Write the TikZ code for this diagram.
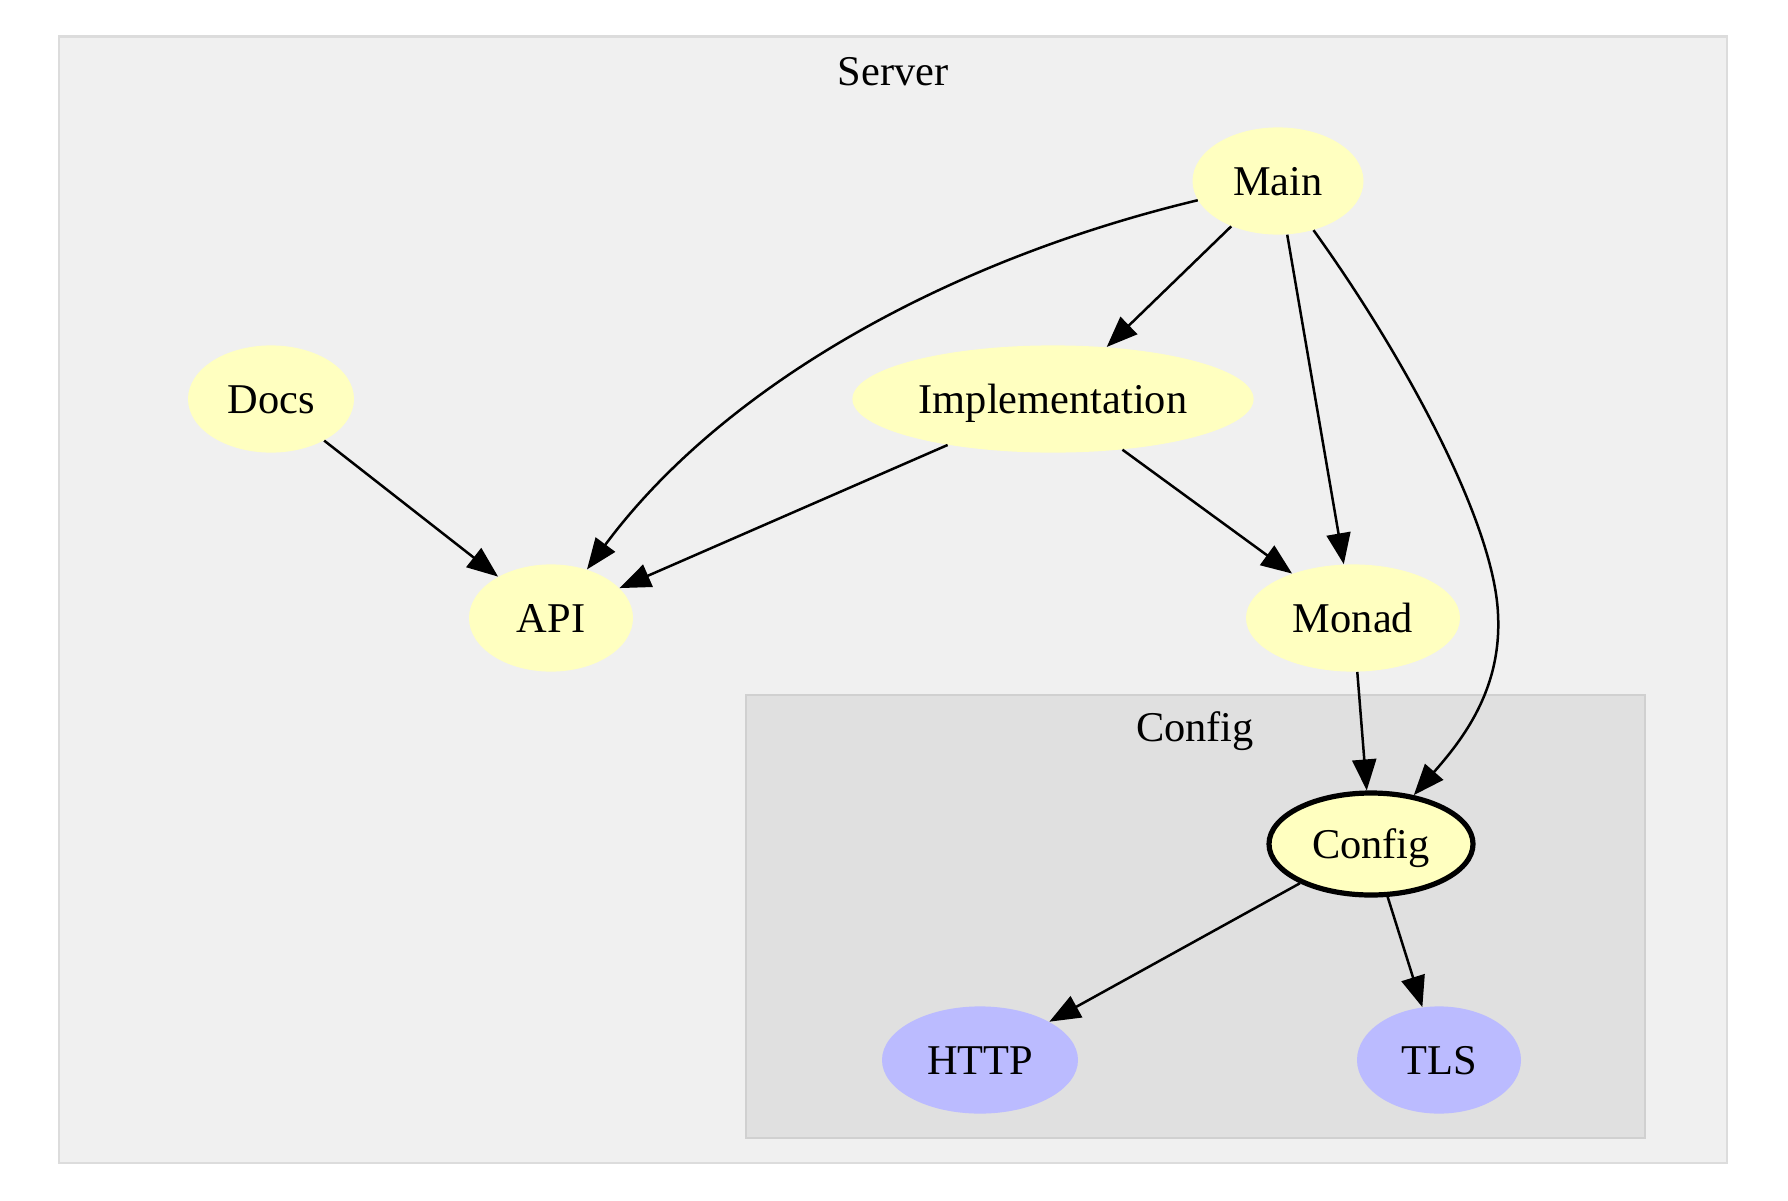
\documentclass[tikz,border=0pt]{standalone}
\usepackage{fontspec}
\setmainfont{Liberation Serif}
\usetikzlibrary{shapes.geometric,arrows.meta}
\definecolor{nodeyellow}{HTML}{FFFFC0}
\definecolor{nodeblue}{HTML}{BBBBFF}
\definecolor{serverfill}{HTML}{F0F0F0}
\definecolor{serverline}{HTML}{DCDCDC}
\definecolor{configfill}{HTML}{E0E0E0}
\definecolor{configline}{HTML}{D0D0D0}
\begin{document}
\begin{tikzpicture}[x=0.5pt,y=-0.5pt,
  lbl/.style={font=\fontsize{21.2}{25}\selectfont, text height=14pt, text depth=0pt, inner sep=0pt},
  gnode/.style={ellipse, lbl, minimum height=53.6pt},
  yel/.style={gnode, fill=nodeyellow},
  blu/.style={gnode, fill=nodeblue},
  edge/.style={-{Triangle[length=15.5pt,width=12pt]}, line width=1.25pt},
  cluster/.style={line width=1.2pt}
]
\useasboundingbox (0,0) rectangle (1788,1200);
\draw[cluster, fill=serverfill, draw=serverline] (59,36.5) rectangle (1727,1163);
\node[lbl] (serverlabel) at (893,71) {Server};
\draw[cluster, fill=configfill, draw=configline] (746,695) rectangle (1645,1138);
\node[lbl] (configlabel) at (1195,727) {Config};

\node[yel, minimum width=85.5pt] (Main) at (1278,181) {Main};
\node[yel, minimum width=83pt] (Docs) at (271,399) {Docs};
\node[yel, minimum width=200.6pt] (Impl) at (1053,399) {Implementation};
\node[yel, minimum width=82pt] (API) at (551,618) {API};
\node[yel, minimum width=107pt] (Monad) at (1353,618) {Monad};
\node[yel, minimum width=102pt, minimum height=51pt, draw=black, line width=2.6pt] (Config) at (1371,844) {Config};
\node[blu, minimum width=98pt] (HTTP) at (980,1060) {HTTP};
\node[blu, minimum width=82pt] (TLS) at (1439,1060) {TLS};

\coordinate (bend) at (1498,614);

\draw[edge] (Main) .. controls (940,262) and (720,390) .. (API);
\draw[edge] (Main) -- (Impl);
\draw[edge] (Main) -- (Monad);
\draw[edge] (Main) .. controls (1400,350) and (1494,520) .. (bend) .. controls (1502,690) and (1462,740) .. (Config);
\draw[edge] (Docs) -- (API);
\draw[edge] (Impl) -- (API);
\draw[edge] (Impl) -- (Monad);
\draw[edge] (Monad) -- (Config);
\draw[edge] (Config) -- (HTTP);
\draw[edge] (Config) -- (TLS);
\end{tikzpicture}
\end{document}
